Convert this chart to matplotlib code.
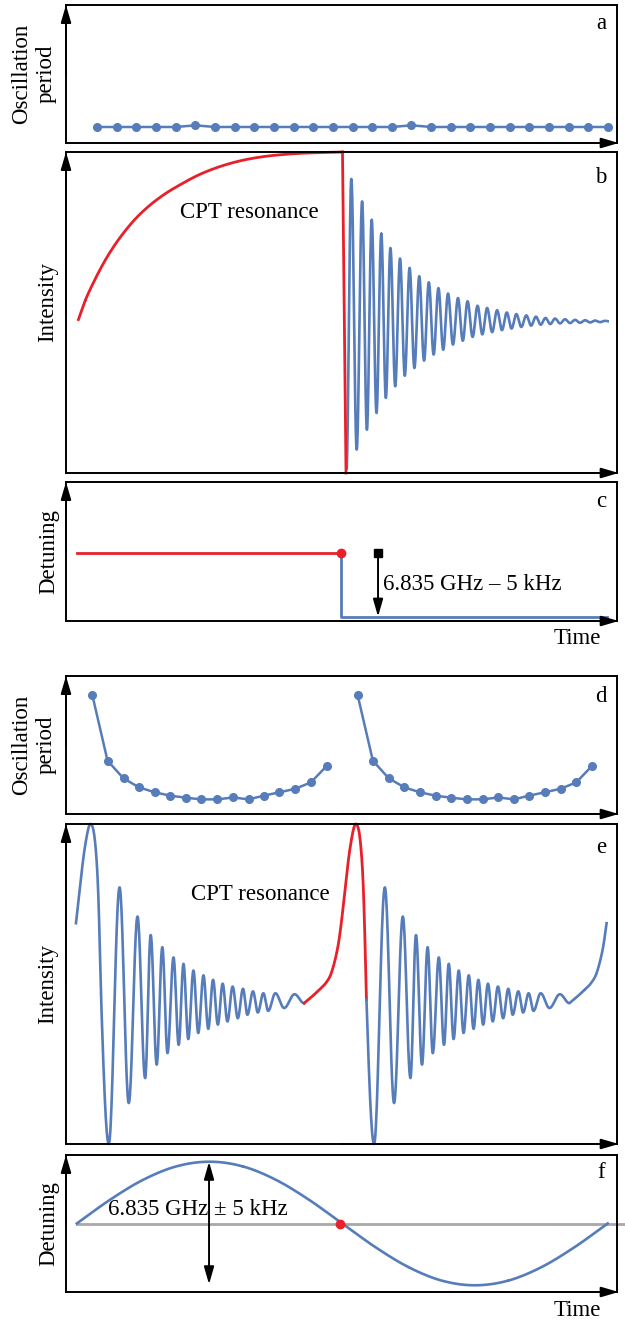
import numpy as np
import matplotlib
matplotlib.use("Agg")
import matplotlib.pyplot as plt

plt.rcParams['font.family'] = ['Liberation Serif', 'DejaVu Serif']

# ------------------------------------------------------------------ data
BLUE = '#567cba'
RED = '#e8202a'
GRAY = '#a8a8a8'
FS = 16.5

# (a) oscillation period, constant detuning
a_time = [0.056, 0.092, 0.127, 0.163, 0.199, 0.235, 0.270, 0.306, 0.342,
          0.377, 0.413, 0.449, 0.485, 0.520, 0.556, 0.592, 0.627, 0.663,
          0.699, 0.734, 0.770, 0.806, 0.841, 0.877, 0.913, 0.948, 0.983]
a_period = [0.116, 0.116, 0.116, 0.116, 0.116, 0.128, 0.116, 0.116, 0.116,
            0.116, 0.116, 0.116, 0.116, 0.116, 0.116, 0.116, 0.128, 0.116,
            0.116, 0.116, 0.116, 0.116, 0.116, 0.116, 0.116, 0.116, 0.116]

# (b) intensity: CPT resonance rise (red) then drop
b_rise_t = [0.0225, 0.035, 0.050, 0.065, 0.080, 0.100, 0.125, 0.150, 0.175,
            0.200, 0.240, 0.280, 0.320, 0.360, 0.400, 0.440, 0.5018]
b_rise_v = [0.478, 0.538, 0.594, 0.644, 0.688, 0.738, 0.790, 0.831, 0.864,
            0.891, 0.928, 0.955, 0.974, 0.986, 0.993, 0.997, 1.000]
b_drop_t = [0.5018, 0.5082]
b_drop_v = [1.000, 0.000]
# (b) damped free oscillation: extrema (start, peaks/troughs alternating, end)
b_ext_t = [0.5090, 0.5178, 0.5276, 0.5374, 0.5461, 0.5548, 0.5635, 0.5722,
           0.5805, 0.5888, 0.5975, 0.6062, 0.6149, 0.6236, 0.6323, 0.6411,
           0.6498, 0.6585, 0.6672, 0.6759, 0.6846, 0.6933, 0.7023, 0.7114,
           0.7201, 0.7288, 0.7379, 0.7469, 0.7556, 0.7643, 0.7734, 0.7824,
           0.7912, 0.7999, 0.8086, 0.8173, 0.8263, 0.8354, 0.8441, 0.8528,
           0.8615, 0.8702, 0.8789, 0.8876, 0.8967, 0.9057, 0.9148, 0.9239,
           0.9329, 0.9420, 0.9511, 0.9601, 0.9692, 0.9782, 0.9855]
b_ext_v = [0.010, 0.916, 0.073, 0.846, 0.135, 0.789, 0.187, 0.745,
           0.234, 0.701, 0.270, 0.668, 0.303, 0.639, 0.327, 0.613,
           0.350, 0.594, 0.369, 0.576, 0.384, 0.559, 0.400, 0.545,
           0.412, 0.535, 0.424, 0.521, 0.432, 0.514, 0.439, 0.507,
           0.445, 0.500, 0.450, 0.495, 0.455, 0.491, 0.459, 0.487,
           0.462, 0.483, 0.464, 0.481, 0.466, 0.479, 0.467, 0.477,
           0.468, 0.476, 0.469, 0.475, 0.470, 0.474, 0.4725]

# (c) detuning step
c_before_t = [0.0196, 0.4996]
c_before_v = [0.488, 0.488]
c_after_t = [0.4996, 0.4996, 0.9819]
c_after_v = [0.488, 0.031, 0.031]
c_arrow_t = 0.5663
c_label = '6.835 GHz \u2013 5 kHz'

# (d) oscillation period during one sweep, repeated every sweep period
sweep_period = 0.4815
d_time = [0.0479, 0.0754, 0.1044, 0.1327, 0.1610, 0.1893, 0.2175, 0.2458,
          0.2748, 0.3031, 0.3314, 0.3590, 0.3872, 0.4162, 0.4445, 0.4728]
d_period = [0.860, 0.386, 0.258, 0.193, 0.157, 0.133, 0.118, 0.106,
            0.106, 0.120, 0.106, 0.133, 0.157, 0.183, 0.229, 0.347]

# (e) intensity under sinusoidal sweep
# oscillation extrema within one sweep (trough, peak, trough, ...)
e_osc_t = [0.0776, 0.0972, 0.1139, 0.1298, 0.1436, 0.1537, 0.1646, 0.1748,
           0.1842, 0.1951, 0.2045, 0.2132, 0.2219, 0.2313, 0.2400, 0.2495,
           0.2582, 0.2669, 0.2756, 0.2843, 0.2930, 0.3024, 0.3118, 0.3212,
           0.3292, 0.3394, 0.3481, 0.3582, 0.3669, 0.3800, 0.3959, 0.4148,
           0.4322]
e_osc_v = [0.000, 0.802, 0.128, 0.711, 0.206, 0.653, 0.248, 0.615,
           0.284, 0.583, 0.310, 0.563, 0.328, 0.542, 0.347, 0.527,
           0.360, 0.513, 0.373, 0.501, 0.383, 0.492, 0.393, 0.485,
           0.404, 0.477, 0.411, 0.471, 0.416, 0.471, 0.425, 0.468,
           0.440]
# CPT resonance passage (red)
e_res_t = [0.4322, 0.4453, 0.4598, 0.4706, 0.4815, 0.4924, 0.4996, 0.5069,
           0.5141, 0.5214, 0.5265, 0.5323, 0.5374, 0.5410, 0.5453]
e_res_v = [0.440, 0.459, 0.482, 0.501, 0.534, 0.607, 0.690, 0.804,
           0.908, 0.981, 1.000, 0.971, 0.877, 0.732, 0.451]
e_t_start, e_t_end = 0.018, 0.9833

# (f) sinusoidal detuning sweep
f_time = [0.0196, 0.0798, 0.1400, 0.2003, 0.2605, 0.3207, 0.3809, 0.4411,
          0.5014, 0.5616, 0.6218, 0.6820, 0.7422, 0.8025, 0.8627, 0.9229,
          0.9831]
f_detuning = [0.500, 0.673, 0.819, 0.917, 0.951, 0.917, 0.819, 0.673,
              0.500, 0.327, 0.181, 0.083, 0.049, 0.083, 0.181, 0.327,
              0.500]
f_zero_t = [0.0196, 1.015]
f_dot_t, f_dot_v = 0.4975, 0.500
f_arrow_t = 0.2596
f_label = '6.835 GHz \u00b1 5 kHz'


# ------------------------------------------------------------------ helpers
def cos_path(ts, vs, n=24):
    xs, ys = [], []
    for i in range(len(ts) - 1):
        s = np.linspace(0, 1, n)
        xs.append(ts[i] + (ts[i + 1] - ts[i]) * s)
        ys.append(vs[i] + (vs[i + 1] - vs[i]) * (1 - np.cos(np.pi * s)) / 2)
    return np.concatenate(xs), np.concatenate(ys)


def quarter(t0, v0, t1, v1, n=24):
    s = np.linspace(0, 1, n)
    return t0 + (t1 - t0) * s, v0 + (v1 - v0) * np.sin(np.pi / 2 * s)


def catmull(ts, vs, n=16):
    P = np.column_stack([ts, vs]).astype(float)
    Q = np.vstack([2 * P[0] - P[1], P, 2 * P[-1] - P[-2]])
    out = []
    s = np.linspace(0, 1, n)[:, None]
    for i in range(len(P) - 1):
        p0, p1, p2, p3 = Q[i], Q[i + 1], Q[i + 2], Q[i + 3]
        pt = 0.5 * (2 * p1 + (-p0 + p2) * s + (2 * p0 - 5 * p1 + 4 * p2 - p3) * s ** 2
                    + (-p0 + 3 * p1 - 3 * p2 + p3) * s ** 3)
        out.append(pt)
    out = np.vstack(out)
    return out[:, 0], out[:, 1]


W, H = 625, 1320
fig = plt.figure(figsize=(W / 100, H / 100), dpi=100)


def make_ax(top_px, bot_px, letter, letter_off, ylabel, ylab_dx, ylab_dy=0, time=False):
    left, right = 66, 617
    ax = fig.add_axes([left / W, 1 - bot_px / H, (right - left) / W, (bot_px - top_px) / H])
    ax.set_xlim(0, 1)
    ax.set_ylim(0, 1)
    ax.set_xticks([])
    ax.set_yticks([])
    for sp in ax.spines.values():
        sp.set_linewidth(1.4)
        sp.set_color('black')
    ap = dict(arrowstyle='-|>,head_length=0.75,head_width=0.22', color='black',
              lw=1.4, shrinkA=0, shrinkB=0, mutation_scale=14)
    ax.annotate('', xy=(0, 1.0), xycoords='axes fraction', xytext=(0, 0.5),
                arrowprops=ap, annotation_clip=False)
    ax.annotate('', xy=(1.003, 0), xycoords='axes fraction', xytext=(0.5, 0),
                arrowprops=ap, annotation_clip=False)
    ax.annotate(letter, xy=(1, 1), xycoords='axes fraction',
                xytext=(-16, -letter_off), textcoords='offset pixels',
                ha='center', va='baseline', fontsize=FS)
    ax.annotate(ylabel, xy=(0, 0.5), xycoords='axes fraction',
                xytext=(ylab_dx, ylab_dy), textcoords='offset pixels',
                rotation=90, ha='center', va='center', fontsize=FS,
                multialignment='center', linespacing=1.2)
    if time:
        ax.annotate('Time', xy=(0.9275, 0), xycoords='axes fraction',
                    xytext=(0, -18), textcoords='offset pixels',
                    ha='center', va='center', fontsize=FS)
    return ax


# ---------------- panel a
ax = make_ax(5, 143, 'a', 24, 'Oscillation\nperiod', -32)
ax.plot(a_time, a_period, '-o', color=BLUE, lw=1.8, ms=5.5)

# ---------------- panel b
ax = make_ax(152, 473, 'b', 31, 'Intensity', -18, 10)
bx, by = cos_path(b_ext_t, b_ext_v)
ax.plot(bx, by, color=BLUE, lw=1.9, clip_on=False, solid_capstyle='butt')
rx, ry = catmull(b_rise_t, b_rise_v)
ax.plot(rx, ry, color=RED, lw=2.0, clip_on=False)
ax.plot(b_drop_t, b_drop_v, color=RED, lw=2.0, clip_on=False)
ax.text(0.2074, 0.813, 'CPT resonance', fontsize=FS, ha='left', va='center')

# ---------------- panel c
ax = make_ax(482, 621, 'c', 25, 'Detuning', -17, time=True)
ax.plot(c_before_t, c_before_v, color=RED, lw=2.0)
ax.plot(c_after_t, c_after_v, color=BLUE, lw=2.0)
ax.plot(c_before_t[-1], c_before_v[-1], 'o', color=RED, ms=6)
ax.annotate('', xy=(c_arrow_t, c_after_v[-1]), xytext=(c_arrow_t, c_before_v[0]),
            arrowprops=dict(arrowstyle='-|>,head_length=0.7,head_width=0.2',
                            color='black', lw=1.4, shrinkA=0, shrinkB=0,
                            mutation_scale=15))
ax.plot(c_arrow_t, c_before_v[0], 's', color='black', ms=5.5)
ax.text(c_arrow_t + 0.0095, 0.264, c_label, fontsize=FS, ha='left', va='center')

# ---------------- panel d
ax = make_ax(676, 814, 'd', 26, 'Oscillation\nperiod', -32)
for k in range(2):
    ax.plot(np.array(d_time) + k * sweep_period, d_period, '-o', color=BLUE, lw=1.8, ms=5.5)

# ---------------- panel e
ax = make_ax(824, 1144, 'e', 29, 'Intensity', -18)
res_t = np.array(e_res_t)
res_v = np.array(e_res_v)
# first sweep: tail of previous resonance, then oscillation
m = (res_t - sweep_period) >= e_t_start
x1, y1 = catmull(res_t[m] - sweep_period, res_v[m])
q1x, q1y = quarter(res_t[-1] - sweep_period, res_v[-1], e_osc_t[0], e_osc_v[0])
o1x, o1y = cos_path(e_osc_t, e_osc_v)
ax.plot(np.concatenate([x1, q1x, o1x]), np.concatenate([y1, q1y, o1y]),
        color=BLUE, lw=1.9, clip_on=False)
# resonance (red)
rx, ry = catmull(res_t, res_v)
ax.plot(rx, ry, color=RED, lw=2.0, clip_on=False)
# second sweep
q2x, q2y = quarter(res_t[-1], res_v[-1], e_osc_t[0] + sweep_period, e_osc_v[0])
o2x, o2y = cos_path(np.array(e_osc_t) + sweep_period, e_osc_v)
m2 = (res_t + sweep_period) <= e_t_end
x2, y2 = catmull(res_t[m2] + sweep_period, res_v[m2])
ax.plot(np.concatenate([q2x, o2x, x2]), np.concatenate([q2y, o2y, y2]),
        color=BLUE, lw=1.9, clip_on=False)
ax.text(0.2277, 0.781, 'CPT resonance', fontsize=FS, ha='left', va='center')

# ---------------- panel f
ax = make_ax(1155, 1292, 'f', 23, 'Detuning', -17, time=True)
ax.plot(f_zero_t, [0.5, 0.5], color=GRAY, lw=2.0, clip_on=False)
fx, fy = catmull(f_time, f_detuning)
ax.plot(fx, fy, color=BLUE, lw=1.9)
ax.plot(f_dot_t, f_dot_v, 'o', color=RED, ms=6, zorder=5)
ax.annotate('', xy=(f_arrow_t, max(f_detuning)), xytext=(f_arrow_t, 0.056),
            arrowprops=dict(arrowstyle='<|-|>,head_length=0.7,head_width=0.2',
                            color='black', lw=1.4, shrinkA=0, shrinkB=0,
                            mutation_scale=15))
ax.text(0.0769, 0.605, f_label, fontsize=FS, ha='left', va='center')

fig.savefig('out.png', dpi=100)
